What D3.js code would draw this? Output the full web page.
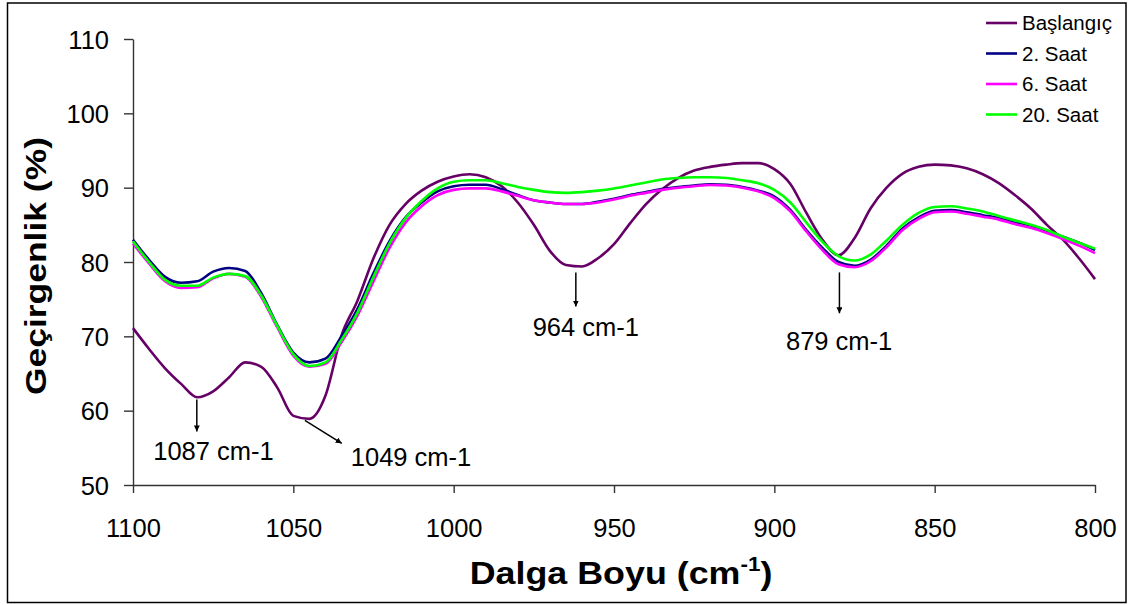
<!DOCTYPE html>
<html>
<head>
<meta charset="utf-8">
<script src="https://cdn.jsdelivr.net/npm/d3@7"></script>
<style>
  body { margin: 0; background: #fff; }
  svg { display: block; font-family: "Liberation Sans", Arial, sans-serif; }
</style>
</head>
<body>
<svg id="chart" width="1128" height="605"></svg>
<script>
// wavenumber grid (cm-1), every 5 units
const wavenumbers = [1100,1095,1090,1085,1080,1075,1070,1065,1060,1055,1050,1045,1040,1035,1030,1025,1020,1015,1010,1005,
  1000,995,990,985,980,975,970,965,960,955,950,945,940,935,930,925,920,915,910,905,
  900,895,890,885,880,875,870,865,860,855,850,845,840,835,830,825,820,815,810,805,800];

const baslangic = [71.1,68.3,65.7,63.6,61.8,62.6,64.5,66.5,65.9,63.1,59.3,58.9,62.0,70.1,74.8,80.5,85.0,87.8,89.6,90.8,
  91.5,91.8,91.4,90.2,88.0,85.0,81.5,79.6,79.4,80.5,82.4,85.2,87.8,89.8,91.3,92.3,92.8,93.1,93.3,93.3,
  92.5,90.5,86.6,83.0,80.9,83.2,87.2,90.0,91.9,92.8,93.1,93.0,92.6,91.8,90.6,89.0,87.2,85.0,83.0,80.5,77.7];

const saat2 = [83.0,80.3,78.0,77.2,77.4,78.7,79.2,78.8,75.8,71.5,67.8,66.5,67.0,70.0,73.7,78.5,82.8,86.0,88.0,89.5,
  90.2,90.4,90.4,89.8,89.0,88.3,88.0,87.8,87.8,88.1,88.5,89.0,89.4,89.8,90.1,90.3,90.45,90.4,90.1,89.6,
  88.8,87.0,84.3,81.9,80.0,79.5,80.3,82.2,84.5,86.0,86.9,87.0,86.7,86.3,85.9,85.4,84.9,84.2,83.4,82.6,81.6];

const saat6 = [82.5,79.8,77.4,76.5,76.6,77.8,78.4,78.0,75.3,71.2,67.4,65.9,66.3,69.2,72.8,77.4,81.9,85.3,87.5,89.0,
  89.7,89.9,89.9,89.5,88.9,88.3,88.0,87.8,87.8,88.0,88.4,88.9,89.3,89.7,90.0,90.2,90.35,90.3,90.0,89.5,
  88.6,86.8,84.1,81.6,79.7,79.3,80.1,82.0,84.3,85.8,86.7,86.8,86.5,86.1,85.7,85.1,84.6,83.9,83.1,82.2,81.2];

const saat20 = [82.8,80.0,77.6,76.8,76.8,77.9,78.4,78.1,75.5,71.4,67.6,66.0,66.5,69.5,73.2,78.0,82.5,85.9,88.2,89.9,
  90.8,91.0,91.0,90.6,90.1,89.7,89.4,89.3,89.4,89.6,89.9,90.3,90.7,91.1,91.3,91.4,91.4,91.3,91.0,90.6,
  89.7,88.0,85.3,82.7,80.8,80.2,81.0,82.9,85.0,86.6,87.4,87.5,87.2,86.8,86.2,85.6,85.0,84.3,83.4,82.6,81.8];

const seriesNames = ["Başlangıç", "2. Saat", "6. Saat", "20. Saat"];
const seriesColors = ["#660066", "#000080", "#ff00ff", "#00ff00"];
const seriesValues = [baslangic, saat2, saat6, saat20];

const xTicks = [1100, 1050, 1000, 950, 900, 850, 800];
const yTicks = [50, 60, 70, 80, 90, 100, 110];

// peak annotations, in data units (wavenumber, %)
const peakLabels = ["1087 cm-1", "1049 cm-1", "964 cm-1", "879 cm-1"];
const arrowFrom = [[1080.1, 61.5], [1046.4, 58.7], [961.9, 78.6], [879.7, 78.6]];
const arrowTo = [[1080.1, 57.2], [1034.9, 55.6], [961.9, 74.0], [879.7, 73.1]];
const labelAt = [[1074.9, 53.4], [1013.3, 52.5], [958.8, 70.0], [879.8, 68.1]];

const svg = d3.select("#chart");

// outer frame
svg.append("rect")
  .attr("x", 7.5).attr("y", 3).attr("width", 1118.5).attr("height", 599.5)
  .attr("fill", "none").attr("stroke", "#000").attr("stroke-width", 1.5);

const x = d3.scaleLinear().domain([1100, 800]).range([133, 1095]);
const y = d3.scaleLinear().domain([50, 110]).range([485, 39]);

svg.append("defs").append("marker")
  .attr("id", "arrow")
  .attr("viewBox", "0 0 10 10")
  .attr("refX", 10).attr("refY", 5)
  .attr("markerWidth", 6).attr("markerHeight", 6)
  .attr("markerUnits", "userSpaceOnUse")
  .attr("orient", "auto")
  .append("path").attr("d", "M0,0L10,5L0,10z").attr("fill", "#000");

// axes
const yAxis = svg.append("g")
  .attr("transform", "translate(133,0)")
  .call(d3.axisLeft(y).tickValues(yTicks).tickFormat(d3.format("d"))
    .tickSize(9).tickSizeOuter(0).tickPadding(15));
const xAxis = svg.append("g")
  .attr("transform", "translate(0,485)")
  .call(d3.axisBottom(x).tickValues(xTicks).tickFormat(d3.format("d"))
    .tickSize(8).tickSizeOuter(0).tickPadding(26));

[xAxis, yAxis].forEach(g => {
  g.selectAll("path, line").attr("stroke", "#333").attr("stroke-width", 1.4);
  g.selectAll("text").attr("font-size", 25.5).attr("fill", "#000")
    .attr("font-family", "'Liberation Sans', Arial, sans-serif");
});
yAxis.selectAll("text").attr("dy", "0.36em");

// series
const line = d3.line()
  .x((d, i) => x(wavenumbers[i]))
  .y(d => y(d))
  .curve(d3.curveMonotoneX);

seriesValues.forEach((vals, k) => {
  svg.append("path")
    .datum(vals)
    .attr("d", line)
    .attr("fill", "none")
    .attr("stroke", seriesColors[k])
    .attr("stroke-width", 2.6)
    .attr("stroke-linejoin", "round");
});

// annotations
peakLabels.forEach((lab, i) => {
  svg.append("line")
    .attr("x1", x(arrowFrom[i][0])).attr("y1", y(arrowFrom[i][1]))
    .attr("x2", x(arrowTo[i][0])).attr("y2", y(arrowTo[i][1]))
    .attr("stroke", "#000").attr("stroke-width", 1.5)
    .attr("marker-end", "url(#arrow)");
  svg.append("text")
    .attr("x", x(labelAt[i][0])).attr("y", y(labelAt[i][1]))
    .attr("text-anchor", "middle")
    .attr("font-size", 25.5)
    .text(lab);
});

// legend
const legend = svg.append("g");
seriesNames.forEach((name, k) => {
  const ly = 23 + k * 30.5;
  legend.append("line")
    .attr("x1", 986).attr("x2", 1017).attr("y1", ly).attr("y2", ly)
    .attr("stroke", seriesColors[k]).attr("stroke-width", 2.6);
  legend.append("text")
    .attr("x", 1022).attr("y", ly).attr("dy", "0.36em")
    .attr("font-size", 20.5)
    .text(name);
});

// axis titles
svg.append("text")
  .attr("transform", "translate(46,266) rotate(-90)")
  .attr("text-anchor", "middle")
  .attr("font-size", 30).attr("font-weight", "bold")
  .attr("textLength", 258).attr("lengthAdjust", "spacingAndGlyphs")
  .text("Geçirgenlik (%)");

const xt = svg.append("text")
  .attr("transform", "translate(621,584) scale(1.12,1)")
  .attr("text-anchor", "middle")
  .attr("font-size", 32).attr("font-weight", "bold");
xt.append("tspan").text("Dalga Boyu (cm");
xt.append("tspan").attr("font-size", 20).attr("dy", -13).text("-1");
xt.append("tspan").attr("dy", 13).text(")");
</script>
</body>
</html>
